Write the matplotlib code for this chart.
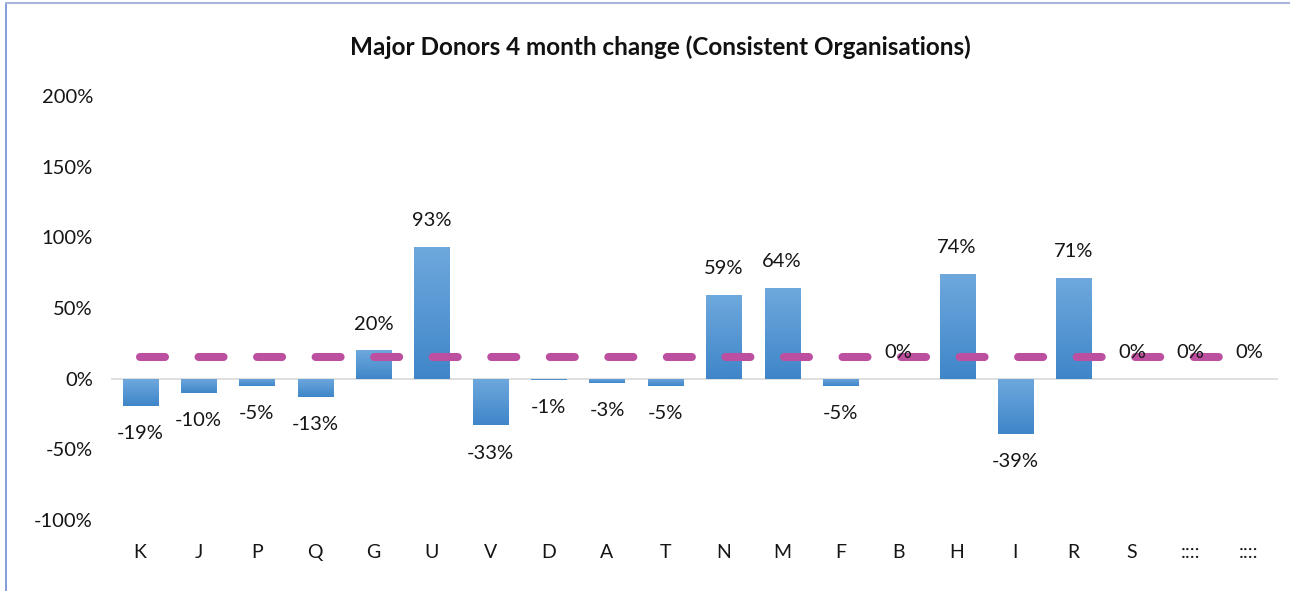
import matplotlib
matplotlib.use("Agg")
import matplotlib.pyplot as plt
from matplotlib.lines import Line2D
from matplotlib.colors import LinearSegmentedColormap
import numpy as np

# data
categories = ["K", "J", "P", "Q", "G", "U", "V", "D", "A", "T",
              "N", "M", "F", "B", "H", "I", "R", "S", "::::", "::::"]
change = [-19, -10, -5, -13, 20, 93, -33, -1, -3, -5,
          59, 64, -5, 0, 74, -39, 71, 0, 0, 0]
target = [15] * len(categories)
yticks = [-100, -50, 0, 50, 100, 150, 200]

plt.rcParams['font.family'] = ['Lato', 'DejaVu Sans']
plt.rcParams['lines.scale_dashes'] = False

W, H = 1290, 591
fig = plt.figure(figsize=(W / 100, H / 100), dpi=100)
ax = fig.add_axes([111 / W, 1 - 520 / H, (1278 - 111) / W, (520 - 96) / H])

x = np.arange(len(categories))
bars = ax.bar(x, change, width=0.6, color="#5597d4", zorder=2)

# light-to-dark vertical gradient inside each bar
grad_cmap = LinearSegmentedColormap.from_list("barfill", ["#3f86c9", "#6ea8dd"])
grad = np.linspace(0, 1, 64).reshape(-1, 1)
for b in bars:
    if b.get_height() == 0:
        continue
    x0, y0 = b.get_x(), b.get_y()
    x1, y1 = x0 + b.get_width(), y0 + b.get_height()
    lo, hi = min(y0, y1), max(y0, y1)
    im = ax.imshow(grad, cmap=grad_cmap, extent=(x0, x1, lo, hi), origin="lower",
                   aspect="auto", interpolation="bilinear", zorder=2.1)
    im.set_clip_path(b)

# dashed reference line, one dash per category
ax.plot(x, target, color="#bc4f9f", linewidth=5.8, solid_capstyle="round",
        dash_capstyle="round", dashes=(18, 24.15), zorder=3)

# value labels
for xi, v in zip(x, change):
    off = -20 if v < 0 else 19
    ax.annotate(f"{v}%", (xi, v), xytext=(0, off), textcoords="offset points",
                ha="center", va="center", fontsize=14.5, color="#151515", zorder=4)

ax.axhline(0, color="#d9d9d9", linewidth=1.2, zorder=1)
ax.set_xlim(-0.5, len(categories) - 0.5)
ax.set_ylim(-100, 200)
ax.set_yticks(yticks)
ax.set_yticklabels([f"{t}%" for t in yticks], fontsize=14.5, color="#151515")
ax.set_xticks(x)
ax.set_xticklabels(categories, fontsize=14, color="#151515")
ax.tick_params(length=0)
ax.tick_params(axis="x", pad=17)
ax.tick_params(axis="y", pad=13)
for s in ax.spines.values():
    s.set_visible(False)

fig.text(660 / W, 1 - 47 / H, "Major Donors 4 month change (Consistent Organisations)",
         ha="center", va="center", fontsize=17.5, fontweight="bold", color="#111111")

# outer frame (left and top edges only)
fig.add_artist(Line2D([6 / W, 6 / W], [0, 1 - 3 / H], transform=fig.transFigure,
                      color="#6f8bd6", linewidth=1.2))
fig.add_artist(Line2D([6 / W, 1], [1 - 3 / H, 1 - 3 / H], transform=fig.transFigure,
                      color="#a9b4dc", linewidth=1.5))

fig.savefig("out.png", dpi=100)
